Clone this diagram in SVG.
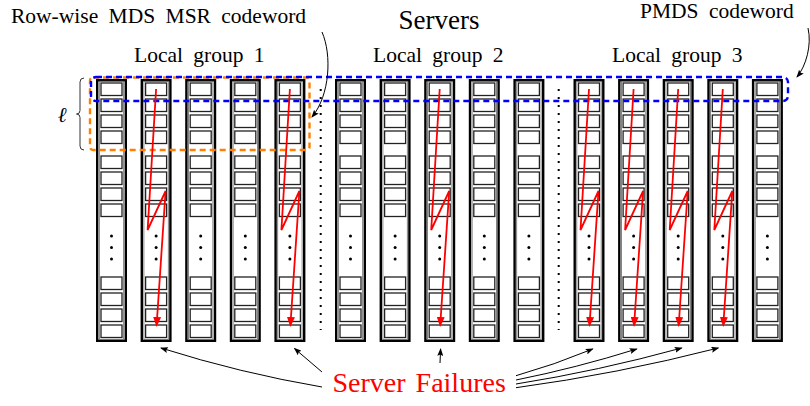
<svg xmlns="http://www.w3.org/2000/svg" xmlns:xlink="http://www.w3.org/1999/xlink" width="810" height="406" viewBox="0 0 810 406">
<style>
  .lbl { font-size: 21.5px; word-spacing: 5px; }
  .title { font-size: 27px; }
  .fail { font-size: 28px; word-spacing: 3px; }
  .outer { fill: #fff; stroke: #000; stroke-width: 2.4; }
  .inner { fill: none; stroke: #666; stroke-width: 0.8; }
  .box { fill: #fff; stroke: #222; stroke-width: 1.3; }
  .vdots { fill: none; stroke: #000; stroke-width: 2; stroke-dasharray: 2 6; }
  .red { fill: none; stroke: #ff0000; stroke-width: 1.8; marker-end: url(#redhead); }
  .conn { fill: none; stroke: #000; stroke-width: 1; marker-end: url(#blackhead); }
  .blue { fill: none; stroke: #0000ff; stroke-width: 2.4; stroke-dasharray: 6 4; }
  .orange { fill: none; stroke: #ff8000; stroke-width: 2.4; stroke-dasharray: 6 4; }
</style>
<defs>
  <marker id="redhead" markerUnits="userSpaceOnUse" viewBox="0 0 10 8" markerWidth="10" markerHeight="8" refX="1" refY="4" orient="auto">
    <path d="M0,0 L10,4 L0,8 z" fill="#ff0000"/>
  </marker>
  <marker id="blackhead" markerUnits="userSpaceOnUse" viewBox="0 0 8 6" markerWidth="8" markerHeight="6" refX="7" refY="3" orient="auto">
    <path d="M0,0 L8,3 L0,6 L1.5,3 z" fill="#000"/>
  </marker>
  <g id="srv">
    <rect class="outer" x="1.2" y="80.2" width="28.6" height="260.6"/>
    <rect class="inner" x="3.3" y="81.3" width="24.4" height="258"/>
    <rect class="box" x="5" y="83" width="21" height="12.5"/>
    <rect class="box" x="5" y="99" width="21" height="12.5"/>
    <rect class="box" x="5" y="115" width="21" height="12.5"/>
    <rect class="box" x="5" y="131" width="21" height="12.5"/>
    <rect class="box" x="5" y="156" width="21" height="12.5"/>
    <rect class="box" x="5" y="172" width="21" height="12.5"/>
    <rect class="box" x="5" y="188" width="21" height="12.5"/>
    <rect class="box" x="5" y="204" width="21" height="12.5"/>
    <rect class="box" x="5" y="277" width="21" height="12.5"/>
    <rect class="box" x="5" y="293" width="21" height="12.5"/>
    <rect class="box" x="5" y="309" width="21" height="12.5"/>
    <rect class="box" x="5" y="325" width="21" height="12.5"/>
    <circle cx="15.5" cy="236" r="1.5"/>
    <circle cx="15.5" cy="247.5" r="1.5"/>
    <circle cx="15.5" cy="259" r="1.5"/>
  </g>
  <path id="zig" class="red" d="M15.5,89 L7,230 L25,191 L16.5,318"/>
</defs>

<!-- Group 1 -->
<g id="server-1-1" transform="translate(96,0)"><use xlink:href="#srv"/></g>
<g id="server-1-2" transform="translate(140.6,0)"><use xlink:href="#srv"/></g>
<g id="server-1-3" transform="translate(185.2,0)"><use xlink:href="#srv"/></g>
<g id="server-1-4" transform="translate(229.8,0)"><use xlink:href="#srv"/></g>
<g id="server-1-5" transform="translate(274.4,0)"><use xlink:href="#srv"/></g>
<!-- Group 2 -->
<g id="server-2-1" transform="translate(335,0)"><use xlink:href="#srv"/></g>
<g id="server-2-2" transform="translate(379.6,0)"><use xlink:href="#srv"/></g>
<g id="server-2-3" transform="translate(424.2,0)"><use xlink:href="#srv"/></g>
<g id="server-2-4" transform="translate(468.8,0)"><use xlink:href="#srv"/></g>
<g id="server-2-5" transform="translate(513.4,0)"><use xlink:href="#srv"/></g>
<!-- Group 3 -->
<g id="server-3-1" transform="translate(573.5,0)"><use xlink:href="#srv"/></g>
<g id="server-3-2" transform="translate(618.1,0)"><use xlink:href="#srv"/></g>
<g id="server-3-3" transform="translate(662.7,0)"><use xlink:href="#srv"/></g>
<g id="server-3-4" transform="translate(707.3,0)"><use xlink:href="#srv"/></g>
<g id="server-3-5" transform="translate(751.9,0)"><use xlink:href="#srv"/></g>

<!-- dotted separators -->
<g id="separators">
  <line class="vdots" x1="320.7" y1="89" x2="320.7" y2="330"/>
  <line class="vdots" x1="558.7" y1="89" x2="558.7" y2="330"/>
</g>

<!-- codeword frames -->
<g id="msr-frame">
  <rect class="orange" x="90" y="77.5" width="219.5" height="72.5" rx="3"/>
</g>
<g id="pmds-frame">
  <rect class="blue" x="91" y="77" width="697" height="24" rx="5"/>
</g>

<!-- repair paths (failures) -->
<g id="failures">
  <use xlink:href="#zig" transform="translate(140.6,0)"/>
  <use xlink:href="#zig" transform="translate(274.4,0)"/>
  <use xlink:href="#zig" transform="translate(424.2,0)"/>
  <use xlink:href="#zig" transform="translate(573.5,0)"/>
  <use xlink:href="#zig" transform="translate(618.1,0)"/>
  <use xlink:href="#zig" transform="translate(662.7,0)"/>
  <use xlink:href="#zig" transform="translate(707.3,0)"/>
</g>

<!-- brace and ell -->
<g id="ell">
  <path d="M84,78 Q80,78 80,82 L80,110.5 Q80,114 76.5,114 Q80,114 80,117.5 L80,146 Q80,150 84,150" fill="none" stroke="#333" stroke-width="1"/>
  <text x="62" y="122" text-anchor="middle" font-family="Liberation Serif" font-style="italic" font-size="21">ℓ</text>
</g>

<!-- labels -->
<g id="labels" font-family="Liberation Serif" fill="#000">
  <text class="lbl" x="11" y="23">Row-wise MDS MSR codeword</text>
  <text class="title" x="439" y="28.5" text-anchor="middle">Servers</text>
  <text class="lbl" x="134" y="62">Local group 1</text>
  <text class="lbl" x="373" y="62">Local group 2</text>
  <text class="lbl" x="612" y="62">Local group 3</text>
  <text class="lbl" x="640" y="18">PMDS codeword</text>
  <text class="fail" x="332.5" y="392.3" fill="#ff0000">Server Failures</text>
</g>

<!-- connectors -->
<g id="connectors">
  <path class="conn" d="M322,32 C332,55 330,95 312,117"/>
  <path class="conn" d="M808,28 C812,45 806,66 797,77"/>
  <path class="conn" d="M322,387 Q240,373 161,348"/>
  <path class="conn" d="M322,372 L294.5,348.5"/>
  <path class="conn" d="M440,363 L440.6,349"/>
  <path class="conn" d="M516,375.7 Q554,365 592.7,349"/>
  <path class="conn" d="M516,380 Q576,368 636.7,349"/>
  <path class="conn" d="M516,384 Q598,371 681.7,348"/>
  <path class="conn" d="M516,387.7 Q617,374 718.3,348"/>
</g>
</svg>
